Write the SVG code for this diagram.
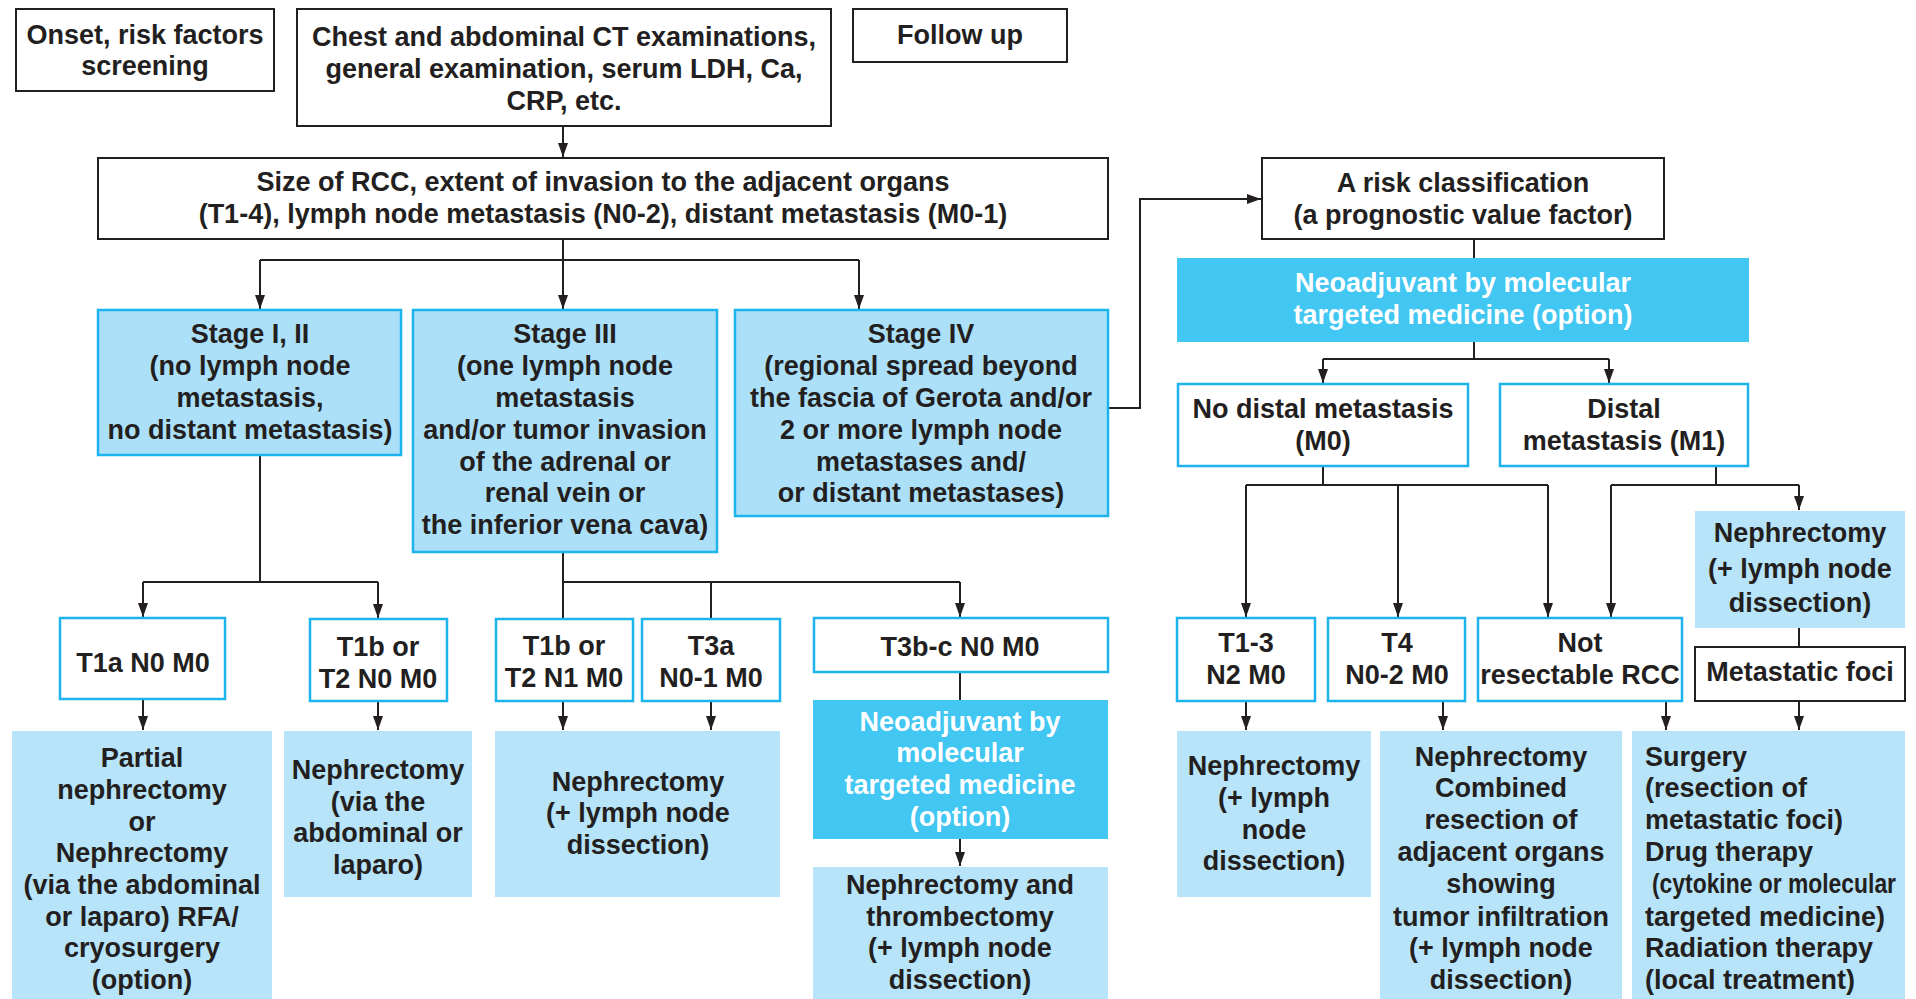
<svg xmlns="http://www.w3.org/2000/svg" width="1916" height="999" viewBox="0 0 1916 999">
<defs>
<marker id="arr" viewBox="0 0 10 10" refX="10" refY="5" markerWidth="14" markerHeight="10" markerUnits="userSpaceOnUse" orient="auto" preserveAspectRatio="none">
<path d="M0,0 L10,5 L0,10 z" fill="#231f20"/>
</marker>
<style>
text{font-family:"Liberation Sans",Arial,sans-serif;font-weight:bold;font-size:27px;fill:#231f20;text-anchor:middle}
text.w{fill:#ffffff}
text.l{text-anchor:start}
.bk{fill:#ffffff;stroke:#231f20;stroke-width:2}
.bw{fill:#ffffff;stroke:#1cb4ec;stroke-width:2.5}
.st{fill:#ace0f9;stroke:#1cb4ec;stroke-width:2.5}
.rs{fill:#b7e4f9;stroke:none}
.nb{fill:#42c6f2;stroke:none}
#connectors path{fill:none;stroke:#231f20;stroke-width:2}
</style>
</defs>
<rect width="1916" height="999" fill="#ffffff"/>

<g id="connectors">
<path d="M563,126 V157" marker-end="url(#arr)"/>
<path d="M563,239 V260 M260,260 H859"/>
<path d="M260,260 V309" marker-end="url(#arr)"/>
<path d="M563,260 V309" marker-end="url(#arr)"/>
<path d="M859,260 V309" marker-end="url(#arr)"/>
<path d="M1108,408 H1140 V199 H1261" marker-end="url(#arr)"/>
<path d="M1474,239 V258"/>
<path d="M1474,342 V359 M1323,359 H1609"/>
<path d="M1323,359 V383" marker-end="url(#arr)"/>
<path d="M1609,359 V383" marker-end="url(#arr)"/>
<path d="M1323,466 V485 M1246,485 H1548"/>
<path d="M1246,485 V617" marker-end="url(#arr)"/>
<path d="M1398,485 V617" marker-end="url(#arr)"/>
<path d="M1548,485 V617" marker-end="url(#arr)"/>
<path d="M1716,466 V485 M1611,485 H1799"/>
<path d="M1611,485 V617" marker-end="url(#arr)"/>
<path d="M1799,485 V510" marker-end="url(#arr)"/>
<path d="M1799,628 V647"/>
<path d="M1246,701 V730" marker-end="url(#arr)"/>
<path d="M1443,701 V730" marker-end="url(#arr)"/>
<path d="M1666,701 V730" marker-end="url(#arr)"/>
<path d="M1799,701 V730" marker-end="url(#arr)"/>
<path d="M260,456 V582 M143,582 H378"/>
<path d="M143,582 V617" marker-end="url(#arr)"/>
<path d="M378,582 V618" marker-end="url(#arr)"/>
<path d="M563,553 V582 H960 M563,582 V619 M711,582 V619"/>
<path d="M960,582 V617" marker-end="url(#arr)"/>
<path d="M143,699 V730" marker-end="url(#arr)"/>
<path d="M378,701 V730" marker-end="url(#arr)"/>
<path d="M563,701 V730" marker-end="url(#arr)"/>
<path d="M711,701 V730" marker-end="url(#arr)"/>
<path d="M960,672 V700"/>
<path d="M960,839 V866" marker-end="url(#arr)"/>
</g>

<g id="onset">
<rect class="bk" x="16" y="9" width="258" height="82"/>
<text x="145" y="44">Onset, risk factors</text>
<text x="145" y="75">screening</text>
</g>
<g id="chest">
<rect class="bk" x="297" y="9" width="534" height="117"/>
<text x="564" y="46">Chest and abdominal CT examinations,</text>
<text x="564" y="78">general examination, serum LDH, Ca,</text>
<text x="564" y="110">CRP, etc.</text>
</g>
<g id="followup">
<rect class="bk" x="853" y="9" width="214" height="53"/>
<text x="960" y="44">Follow up</text>
</g>
<g id="size">
<rect class="bk" x="98" y="158" width="1010" height="81"/>
<text x="603" y="191">Size of RCC, extent of invasion to the adjacent organs</text>
<text x="603" y="223">(T1-4), lymph node metastasis (N0-2), distant metastasis (M0-1)</text>
</g>

<g id="stage12">
<rect class="st" x="98" y="310" width="303" height="145"/>
<text x="250" y="343">Stage I, II</text>
<text x="250" y="375">(no lymph node</text>
<text x="250" y="407">metastasis,</text>
<text x="250" y="439">no distant metastasis)</text>
</g>
<g id="stage3">
<rect class="st" x="413" y="310" width="304" height="242"/>
<text x="565" y="343">Stage III</text>
<text x="565" y="375">(one lymph node</text>
<text x="565" y="407">metastasis</text>
<text x="565" y="439">and/or tumor invasion</text>
<text x="565" y="471">of the adrenal or</text>
<text x="565" y="502">renal vein or</text>
<text x="565" y="534">the inferior vena cava)</text>
</g>
<g id="stage4">
<rect class="st" x="735" y="310" width="373" height="206"/>
<text x="921" y="343">Stage IV</text>
<text x="921" y="375">(regional spread beyond</text>
<text x="921" y="407">the fascia of Gerota and/or</text>
<text x="921" y="439">2 or more lymph node</text>
<text x="921" y="471">metastases and/</text>
<text x="921" y="502">or distant metastases)</text>
</g>

<g id="risk">
<rect class="bk" x="1262" y="158" width="402" height="81"/>
<text x="1463" y="192">A risk classification</text>
<text x="1463" y="224">(a prognostic value factor)</text>
</g>
<g id="neo-top">
<rect class="nb" x="1177" y="258" width="572" height="84"/>
<text class="w" x="1463" y="292">Neoadjuvant by molecular</text>
<text class="w" x="1463" y="324">targeted medicine (option)</text>
</g>
<g id="m0">
<rect class="bw" x="1178" y="384" width="290" height="82"/>
<text x="1323" y="418">No distal metastasis</text>
<text x="1323" y="450">(M0)</text>
</g>
<g id="m1">
<rect class="bw" x="1500" y="384" width="248" height="82"/>
<text x="1624" y="418">Distal</text>
<text x="1624" y="450">metastasis (M1)</text>
</g>

<g id="t1a">
<rect class="bw" x="60" y="618" width="165" height="81"/>
<text x="143" y="672">T1a N0 M0</text>
</g>
<g id="t1b-n0">
<rect class="bw" x="310" y="619" width="137" height="82"/>
<text x="378" y="656">T1b or</text>
<text x="378" y="688">T2 N0 M0</text>
</g>
<g id="t1b-n1">
<rect class="bw" x="496" y="619" width="137" height="82"/>
<text x="564" y="655">T1b or</text>
<text x="564" y="687">T2 N1 M0</text>
</g>
<g id="t3a">
<rect class="bw" x="642" y="619" width="138" height="82"/>
<text x="711" y="655">T3a</text>
<text x="711" y="687">N0-1 M0</text>
</g>
<g id="t3bc">
<rect class="bw" x="814" y="618" width="294" height="54"/>
<text x="960" y="656">T3b-c N0 M0</text>
</g>

<g id="partial">
<rect class="rs" x="12" y="731" width="260" height="268"/>
<text x="142" y="767">Partial</text>
<text x="142" y="799">nephrectomy</text>
<text x="142" y="831">or</text>
<text x="142" y="862">Nephrectomy</text>
<text x="142" y="894">(via the abdominal</text>
<text x="142" y="926">or laparo) RFA/</text>
<text x="142" y="957">cryosurgery</text>
<text x="142" y="989">(option)</text>
</g>
<g id="neph-via">
<rect class="rs" x="284" y="731" width="188" height="166"/>
<text x="378" y="779">Nephrectomy</text>
<text x="378" y="811">(via the</text>
<text x="378" y="842">abdominal or</text>
<text x="378" y="874">laparo)</text>
</g>
<g id="neph-lymph">
<rect class="rs" x="495" y="731" width="285" height="166"/>
<text x="638" y="791">Nephrectomy</text>
<text x="638" y="822">(+ lymph node</text>
<text x="638" y="854">dissection)</text>
</g>
<g id="neo-t3">
<rect class="nb" x="813" y="700" width="295" height="139"/>
<text class="w" x="960" y="731">Neoadjuvant by</text>
<text class="w" x="960" y="762">molecular</text>
<text class="w" x="960" y="794">targeted medicine</text>
<text class="w" x="960" y="826">(option)</text>
</g>
<g id="thromb">
<rect class="rs" x="813" y="867" width="295" height="132"/>
<text x="960" y="894">Nephrectomy and</text>
<text x="960" y="926">thrombectomy</text>
<text x="960" y="957">(+ lymph node</text>
<text x="960" y="989">dissection)</text>
</g>

<g id="t13">
<rect class="bw" x="1177" y="618" width="138" height="83"/>
<text x="1246" y="652">T1-3</text>
<text x="1246" y="684">N2 M0</text>
</g>
<g id="t4">
<rect class="bw" x="1328" y="618" width="137" height="83"/>
<text x="1397" y="652">T4</text>
<text x="1397" y="684">N0-2 M0</text>
</g>
<g id="notres">
<rect class="bw" x="1478" y="618" width="204" height="83"/>
<text x="1580" y="652">Not</text>
<text x="1580" y="684">resectable RCC</text>
</g>
<g id="neph-m1">
<rect class="rs" x="1695" y="511" width="210" height="117"/>
<text x="1800" y="542">Nephrectomy</text>
<text x="1800" y="578">(+ lymph node</text>
<text x="1800" y="612">dissection)</text>
</g>
<g id="metfoci">
<rect class="bk" x="1695" y="647" width="210" height="54"/>
<text x="1800" y="681">Metastatic foci</text>
</g>

<g id="neph-t13">
<rect class="rs" x="1177" y="731" width="194" height="166"/>
<text x="1274" y="775">Nephrectomy</text>
<text x="1274" y="807">(+ lymph</text>
<text x="1274" y="839">node</text>
<text x="1274" y="870">dissection)</text>
</g>
<g id="combined">
<rect class="rs" x="1380" y="731" width="242" height="268"/>
<text x="1501" y="766">Nephrectomy</text>
<text x="1501" y="797">Combined</text>
<text x="1501" y="829">resection of</text>
<text x="1501" y="861">adjacent organs</text>
<text x="1501" y="893">showing</text>
<text x="1501" y="926">tumor infiltration</text>
<text x="1501" y="957">(+ lymph node</text>
<text x="1501" y="989">dissection)</text>
</g>
<g id="surgery">
<rect class="rs" x="1632" y="731" width="273" height="268"/>
<text class="l" x="1645" y="766">Surgery</text>
<text class="l" x="1645" y="797">(resection of</text>
<text class="l" x="1645" y="829">metastatic foci)</text>
<text class="l" x="1645" y="861">Drug therapy</text>
<text class="l" x="1652" y="893" textLength="244" lengthAdjust="spacingAndGlyphs">(cytokine or molecular</text>
<text class="l" x="1645" y="926">targeted medicine)</text>
<text class="l" x="1645" y="957">Radiation therapy</text>
<text class="l" x="1645" y="989">(local treatment)</text>
</g>
</svg>
